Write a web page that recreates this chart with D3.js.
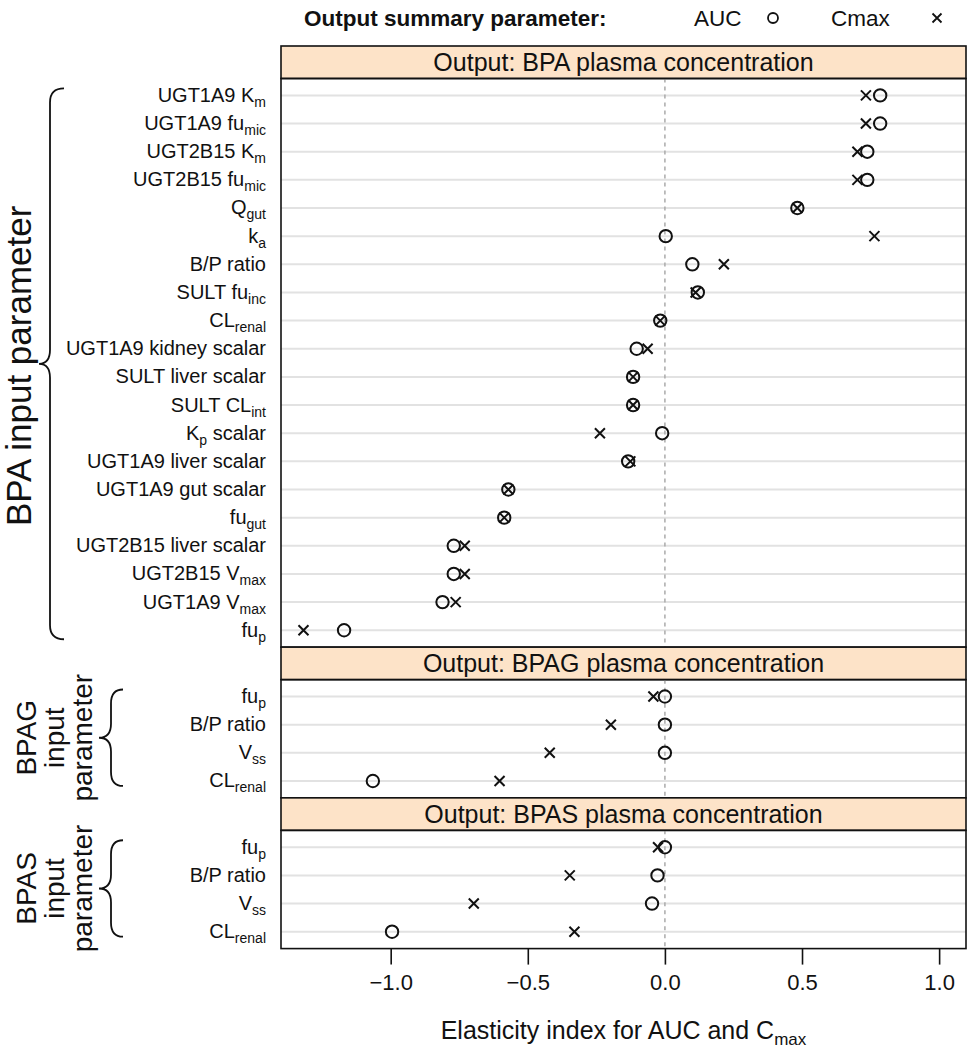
<!DOCTYPE html>
<html lang="en">
<head>
<meta charset="UTF-8">
<title>Elasticity index dot plot</title>
<script src="https://d3js.org/d3.v7.min.js"></script>
<style>
  body { margin: 0; background: #fff; }
  svg text { font-family: "Liberation Sans", Arial, Helvetica, sans-serif; fill: #111; }
</style>
</head>
<body>
<div id="chart"></div>
<script>
// ---- data ----
const bpaLabels = ["UGT1A9 K_{m}", "UGT1A9 fu_{mic}", "UGT2B15 K_{m}", "UGT2B15 fu_{mic}", "Q_{gut}", "k_{a}",
  "B/P ratio", "SULT fu_{inc}", "CL_{renal}", "UGT1A9 kidney scalar", "SULT liver scalar", "SULT CL_{int}",
  "K_{p} scalar", "UGT1A9 liver scalar", "UGT1A9 gut scalar", "fu_{gut}", "UGT2B15 liver scalar",
  "UGT2B15 V_{max}", "UGT1A9 V_{max}", "fu_{p}"];
const bpaAUC  = [0.785, 0.785, 0.738, 0.738, 0.483, 0.003, 0.100, 0.120, -0.017, -0.103, -0.116, -0.116,
  -0.010, -0.134, -0.571, -0.586, -0.770, -0.770, -0.811, -1.170];
const bpaCmax = [0.733, 0.733, 0.702, 0.702, 0.483, 0.764, 0.215, 0.112, -0.017, -0.063, -0.116, -0.116,
  -0.237, -0.126, -0.571, -0.586, -0.730, -0.730, -0.763, -1.318];

const metabLabels = ["fu_{p}", "B/P ratio", "V_{ss}", "CL_{renal}"];
const bpagAUC  = [0.000, 0.000, 0.000, -1.065];
const bpagCmax = [-0.042, -0.197, -0.420, -0.603];
const bpasAUC  = [0.000, -0.027, -0.047, -0.995];
const bpasCmax = [-0.025, -0.347, -0.697, -0.330];

const panelTitles = ["Output: BPA plasma concentration", "Output: BPAG plasma concentration", "Output: BPAS plasma concentration"];
const groupTitles = [["BPA input parameter"], ["BPAG", "input", "parameter"], ["BPAS", "input", "parameter"]];
const xTicks = [-1.0, -0.5, 0.0, 0.5, 1.0];
const xDomain = [-1.40, 1.098];

// ---- layout ----
const W = 968, H = 1051;
const plotLeft = 281, plotRight = 966;
const stripH = 32.5, unit = 28.15, top0 = 46;

const svg = d3.select("#chart").append("svg").attr("width", W).attr("height", H);

const x = d3.scaleLinear().domain(xDomain).range([plotLeft, plotRight]);

const panels = [
  { labels: bpaLabels, auc: bpaAUC, cmax: bpaCmax },
  { labels: metabLabels, auc: bpagAUC, cmax: bpagCmax },
  { labels: metabLabels, auc: bpasAUC, cmax: bpasCmax }
];

// write "K_{m}" style labels as text with subscript tspans
function richText(sel, str, subSize, shift) {
  const parts = str.split(/(_\{[^}]*\})/).filter(s => s.length);
  let down = false;
  parts.forEach(p => {
    if (p.startsWith("_{")) {
      sel.append("tspan").attr("font-size", subSize).attr("dy", shift).text(p.slice(2, -1));
      down = true;
    } else {
      sel.append("tspan").attr("dy", down ? -shift : 0).text(p);
      down = false;
    }
  });
}

function crossPath(cx, cy, s) {
  return `M${cx - s},${cy - s}L${cx + s},${cy + s}M${cx - s},${cy + s}L${cx + s},${cy - s}`;
}

function bracePath(xEnd, xMid, xTip, y0, y1) {
  const yc = (y0 + y1) / 2, r = 14;
  return `M${xEnd},${y0} Q${xMid},${y0} ${xMid},${y0 + r} L${xMid},${yc - r} Q${xMid},${yc} ${xTip},${yc}` +
         ` Q${xMid},${yc} ${xMid},${yc + r} L${xMid},${y1 - r} Q${xMid},${y1} ${xEnd},${y1}`;
}

let yTop = top0;
panels.forEach((p, pi) => {
  const n = p.labels.length;
  const panelTop = yTop + stripH;
  const panelBottom = panelTop + unit * (n - 1 + 1.2);

  // strip
  svg.append("rect").attr("x", plotLeft).attr("y", yTop).attr("width", plotRight - plotLeft).attr("height", stripH)
    .attr("fill", "#fde3c8").attr("stroke", "#111").attr("stroke-width", 1.6);
  svg.append("text").attr("x", (plotLeft + plotRight) / 2).attr("y", yTop + stripH / 2 + 9)
    .attr("text-anchor", "middle").attr("font-size", 25).text(panelTitles[pi]);

  const y = d3.scalePoint().domain(d3.range(n)).range([panelTop, panelBottom]).padding(0.6);

  const g = svg.append("g");
  // grid lines
  g.selectAll("line.grid").data(d3.range(n)).join("line")
    .attr("x1", plotLeft).attr("x2", plotRight)
    .attr("y1", d => y(d)).attr("y2", d => y(d))
    .attr("stroke", "#e2e2e2").attr("stroke-width", 2);
  // zero reference line
  g.append("line").attr("x1", x(0)).attr("x2", x(0)).attr("y1", panelTop).attr("y2", panelBottom)
    .attr("stroke", "#aaa").attr("stroke-width", 1.5).attr("stroke-dasharray", "4,4");

  // AUC circles
  g.selectAll("circle.auc").data(p.auc).join("circle")
    .attr("cx", d => x(d)).attr("cy", (d, i) => y(i)).attr("r", 6.2)
    .attr("fill", "none").attr("stroke", "#111").attr("stroke-width", 2);
  // Cmax crosses
  g.selectAll("path.cmax").data(p.cmax).join("path")
    .attr("d", (d, i) => crossPath(x(d), y(i), 5))
    .attr("fill", "none").attr("stroke", "#111").attr("stroke-width", 2);

  // panel frame
  svg.append("rect").attr("x", plotLeft).attr("y", panelTop).attr("width", plotRight - plotLeft)
    .attr("height", panelBottom - panelTop).attr("fill", "none").attr("stroke", "#111").attr("stroke-width", 1.6);

  // row labels
  p.labels.forEach((lab, i) => {
    const t = svg.append("text").attr("x", 266).attr("y", y(i) + 6.5).attr("text-anchor", "end").attr("font-size", 20);
    richText(t, lab, 14, 5);
  });

  // group brace + title
  const by0 = y(0) - 7, by1 = y(n - 1) + 5;
  if (pi === 0) {
    svg.append("path").attr("d", bracePath(64, 50, 39, by0, by1 + 4))
      .attr("fill", "none").attr("stroke", "#111").attr("stroke-width", 1.8);
    svg.append("text").attr("transform", `translate(31,${(by0 + by1) / 2 + 4}) rotate(-90)`)
      .attr("text-anchor", "middle").attr("font-size", 35).text(groupTitles[pi][0]);
  } else {
    svg.append("path").attr("d", bracePath(123, 111, 99, by0, by1))
      .attr("fill", "none").attr("stroke", "#111").attr("stroke-width", 1.8);
    const t = svg.append("text").attr("transform", `translate(36,${(by0 + by1) / 2}) rotate(-90)`)
      .attr("text-anchor", "middle").attr("font-size", 28);
    groupTitles[pi].forEach((line, li) => {
      t.append("tspan").attr("x", 0).attr("y", li * 28).text(line);
    });
  }

  yTop = panelBottom;
});

// x axis
const axisG = svg.append("g").attr("transform", `translate(0,${yTop})`)
  .call(d3.axisBottom(x).tickValues(xTicks).tickSize(16).tickPadding(10).tickFormat(d3.format(".1f")));
axisG.select(".domain").remove();
axisG.selectAll(".tick line").attr("stroke", "#111").attr("stroke-width", 1.6);
axisG.selectAll(".tick text").attr("font-size", 22).attr("font-family", "Liberation Sans, Arial, sans-serif").attr("fill", "#111");

const title = svg.append("text").attr("x", (plotLeft + plotRight) / 2).attr("y", 1039)
  .attr("text-anchor", "middle").attr("font-size", 25);
richText(title, "Elasticity index for AUC and C_{max}", 17, 6);

// legend
svg.append("text").attr("x", 304).attr("y", 26).attr("font-size", 22.5).attr("font-weight", "bold")
  .text("Output summary parameter:");
svg.append("text").attr("x", 694).attr("y", 26).attr("font-size", 22.5).text("AUC");
svg.append("circle").attr("cx", 773).attr("cy", 18).attr("r", 5).attr("fill", "none")
  .attr("stroke", "#111").attr("stroke-width", 1.8);
svg.append("text").attr("x", 831).attr("y", 26).attr("font-size", 22.5).text("Cmax");
svg.append("path").attr("d", crossPath(937, 18, 4.5)).attr("fill", "none").attr("stroke", "#111").attr("stroke-width", 1.8);
</script>
</body>
</html>
